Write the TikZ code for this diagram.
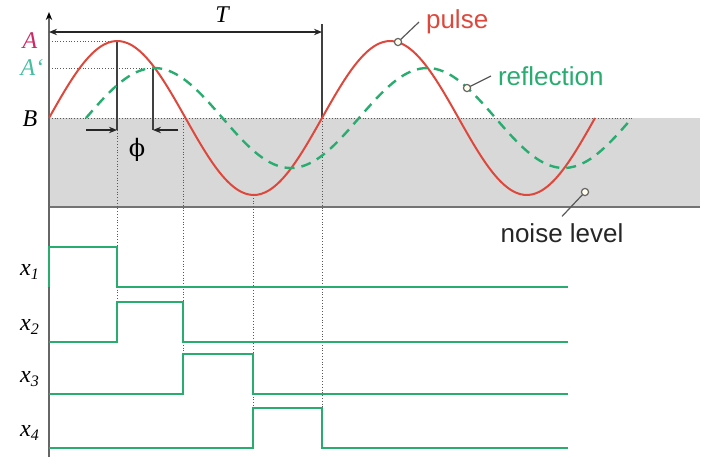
\documentclass[tikz,border=0pt]{standalone}
\usepackage{fontspec}
\setmainfont{Liberation Serif}
\newfontfamily\labfont{Liberation Sans}
\newfontfamily\phifont{DejaVu Serif}
\usetikzlibrary{arrows.meta}
\definecolor{figR}{RGB}{222,72,60}
\definecolor{figG}{RGB}{40,172,112}
\definecolor{figA}{RGB}{208,40,100}
\definecolor{figAp}{RGB}{70,190,160}
\definecolor{figN}{RGB}{216,216,216}
\tikzset{
  lvl/.style={font=\fontsize{12}{14}\selectfont\itshape},
  tag/.style={font=\fontsize{13}{15}\selectfont\labfont},
  guide/.style={densely dotted,black!65},
  pin/.style={draw=black!60,fill=yellow!8,line width=0.6pt},
  lead/.style={black!65,line width=0.6pt}
}

\begin{document}
\begin{tikzpicture}[x=0.5pt,y=-0.5pt,>={Stealth[length=4pt,width=3.2pt]}]
\useasboundingbox (0,0) rectangle (703,457);
% noise band below B
\fill[figN] (49,118) rectangle (700,207);
\draw[black!55,line width=0.9pt] (49,207)--(700,207);
% key points of the two waves
\coordinate (pk) at (117,41);
\coordinate (pkr) at (153,68);
\coordinate (z1) at (183,118);
\coordinate (tr) at (253,195);
\coordinate (z2) at (322,118);
% dotted guides
\draw[guide] (49,41)--(pk) (49,68)--(pkr) (49,118)--(633,118);
\draw[guide] (117,130)--(117,302) (z1)--(183,354) (tr)--(253,409) (z2)--(322,409);
\draw[black!75,line width=0.7pt] (pk)--(117,130) (pkr)--(153,130) (322,24)--(z2);
% axis and period
\draw[-{Stealth[length=4pt,width=3.2pt,black]},black!60,line width=0.9pt] (49,457)--(49,12);
\draw[<->,black!85,line width=0.7pt] (49,32)--(322,32);
\node[lvl] (T) at (222,15) {T};
% phase shift
\draw[->,black!85,line width=0.7pt] (86,130)--(117,130);
\draw[->,black!85,line width=0.7pt] (178,130)--(153,130);
\node[font=\fontsize{12}{14}\selectfont\phifont] (phi) at (137,150) {ϕ};
% levels
\node[lvl,figA] (A) at (30,41) {A};
\node[lvl,figAp] (Ap) at (32,68) {A`};
\node[lvl] (B) at (30,119) {B};
% pulse and reflection
\draw[figR,line width=1pt] plot[domain=49:595,samples=140,smooth] (\x,{118-77*sin((\x-49)/273*360)});
\draw[figG,line width=1.2pt,dash pattern=on 5pt off 3.5pt] plot[domain=86:632,samples=140,smooth] (\x,{118-50*sin((\x-86)/273*360)});
% callouts
\node[tag,figR,anchor=west] (pulse) at (419,22) {pulse};
\node[tag,figG,anchor=west] (refl) at (491,76) {reflection};
\node[tag,black!85] (noise) at (562,233) {noise level};
\coordinate (cp) at (398,42);
\coordinate (cr) at (467,88);
\coordinate (cn) at (585,192);
\draw[lead] (cp)--(pulse.west);
\draw[lead] (cr)--(refl.west);
\draw[lead] (cn)--(noise.north);
\foreach \c in {cp,cr,cn} \draw[pin] (\c) circle (1.8pt);
% switching signals
\foreach \i/\a/\b/\l in {1/49/117/287,2/117/183/342,3/183/253/394,4/253/322/448}{
  \draw[figG,line width=1.2pt] (49,\l)--(\a,\l)--(\a,\l-40)--(\b,\l-40)--(\b,\l)--(568,\l);
  \node[lvl] (x\i) at (30,\l-15) {x\textsubscript{\i}};
}
\end{tikzpicture}
\end{document}
